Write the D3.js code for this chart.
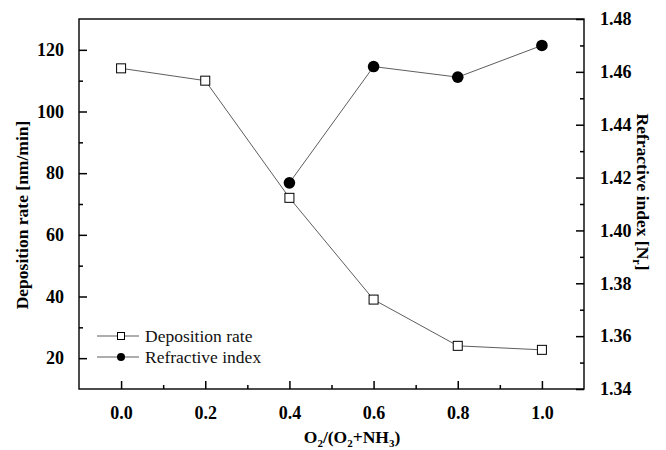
<!DOCTYPE html>
<html><head><meta charset="utf-8">
<script src="https://cdn.jsdelivr.net/npm/d3@7"></script>
<style>body{margin:0;background:#fff}svg{display:block}</style>
</head><body>
<svg id="c" width="666" height="450"></svg>
<script>
const ratio = [0.0, 0.2, 0.4, 0.6, 0.8, 1.0];
const depositionRate = [114, 110, 72, 39, 24, 22.7];
const riRatio = [0.4, 0.6, 0.8, 1.0];
const refractiveIndex = [1.418, 1.462, 1.458, 1.470];
const xTicks = [0.0, 0.2, 0.4, 0.6, 0.8, 1.0];
const yLeftTicks = [20, 40, 60, 80, 100, 120];
const yRightTicks = [1.34, 1.36, 1.38, 1.40, 1.42, 1.44, 1.46, 1.48];

const svg = d3.select("#c");
const L = 79, R = 584, T = 19, B = 389;
const font = "'Liberation Serif','Times New Roman',serif";
const x = d3.scaleLinear().domain([-0.1, 1.1]).range([L, R]);
const yL = d3.scaleLinear().domain([10, 130]).range([B, T]);
const yR = d3.scaleLinear().domain([1.34, 1.48]).range([B, T]);

// frame
svg.append("rect").attr("x", L).attr("y", T).attr("width", R - L).attr("height", B - T)
  .attr("fill", "none").attr("stroke", "#000").attr("stroke-width", 1.4);

function styleAxis(g) {
  g.select(".domain").remove();
  g.selectAll("line").attr("stroke", "#000").attr("stroke-width", 1.5);
  g.selectAll("text").attr("font-family", font).attr("font-weight", "bold").attr("font-size", 18).attr("fill", "#000");
}
// bottom axis
const xMinor = [0.1, 0.3, 0.5, 0.7, 0.9];
svg.append("g").attr("transform", `translate(0,${B})`)
  .call(d3.axisBottom(x).tickValues(xMinor).tickSize(-4).tickFormat(""))
  .call(styleAxis);
svg.append("g").attr("transform", `translate(0,${B})`)
  .call(d3.axisBottom(x).tickValues(xTicks).tickSize(-8).tickPadding(17).tickFormat(d3.format(".1f")))
  .call(styleAxis);
// left axis
const lMinor = [30, 50, 70, 90, 110];
svg.append("g").attr("transform", `translate(${L},0)`)
  .call(d3.axisLeft(yL).tickValues(lMinor).tickSize(-4).tickFormat(""))
  .call(styleAxis);
svg.append("g").attr("transform", `translate(${L},0)`)
  .call(d3.axisLeft(yL).tickValues(yLeftTicks).tickSize(-8).tickPadding(15).tickFormat(d3.format("d")))
  .call(styleAxis);
// right axis
const rMinor = [1.35, 1.37, 1.39, 1.41, 1.43, 1.45, 1.47];
svg.append("g").attr("transform", `translate(${R},0)`)
  .call(d3.axisRight(yR).tickValues(rMinor).tickSize(-4).tickFormat(""))
  .call(styleAxis);
svg.append("g").attr("transform", `translate(${R},0)`)
  .call(d3.axisRight(yR).tickValues(yRightTicks).tickSize(-8).tickPadding(16).tickFormat(d3.format(".2f")))
  .call(styleAxis);

// lines
const dep = ratio.map((r, i) => [r, depositionRate[i]]);
const ri = riRatio.map((r, i) => [r, refractiveIndex[i]]);
svg.append("path").datum(dep).attr("fill", "none").attr("stroke", "#333").attr("stroke-width", 0.8)
  .attr("d", d3.line().x(d => x(d[0])).y(d => yL(d[1])));
svg.append("path").datum(ri).attr("fill", "none").attr("stroke", "#333").attr("stroke-width", 0.8)
  .attr("d", d3.line().x(d => x(d[0])).y(d => yR(d[1])));
svg.selectAll(".sq").data(dep).join("rect")
  .attr("x", d => x(d[0]) - 4.5).attr("y", d => yL(d[1]) - 4.5).attr("width", 9).attr("height", 9)
  .attr("fill", "#fff").attr("stroke", "#000").attr("stroke-width", 1);
svg.selectAll(".ci").data(ri).join("circle")
  .attr("cx", d => x(d[0])).attr("cy", d => yR(d[1])).attr("r", 5.8).attr("fill", "#000");

// legend
const lg = svg.append("g");
[["Deposition rate", "sq", 336], ["Refractive index", "ci", 357]].forEach(([t, m, y]) => {
  lg.append("line").attr("x1", 97).attr("x2", 139).attr("y1", y).attr("y2", y).attr("stroke", "#333").attr("stroke-width", 0.8);
  if (m === "sq") lg.append("rect").attr("x", 117.5).attr("y", y - 3.5).attr("width", 7).attr("height", 7).attr("fill", "#fff").attr("stroke", "#000");
  else lg.append("circle").attr("cx", 121).attr("cy", y).attr("r", 4).attr("fill", "#000");
  lg.append("text").attr("x", 145).attr("y", y + 6).text(t)
    .attr("font-family", font).attr("font-size", 17.5).attr("fill", "#111");
});

// axis titles
svg.append("text").attr("transform", "translate(28,215) rotate(-90)").attr("text-anchor", "middle")
  .attr("font-family", font).attr("font-weight", "bold").attr("font-size", 17.5).attr("fill", "#000")
  .text("Deposition rate [nm/min]");
const rt = svg.append("text").attr("transform", "translate(637,192) rotate(90)").attr("text-anchor", "middle")
  .attr("font-family", font).attr("font-weight", "bold").attr("font-size", 17.5).attr("fill", "#000");
rt.append("tspan").text("Refractive index [N");
rt.append("tspan").attr("font-size", 12).attr("dy", 4).text("r");
rt.append("tspan").attr("dy", -4).text("]");
const xt = svg.append("text").attr("x", 352).attr("y", 443).attr("text-anchor", "middle")
  .attr("font-family", font).attr("font-weight", "bold").attr("font-size", 17.5).attr("fill", "#000");
xt.append("tspan").text("O");
xt.append("tspan").attr("font-size", 11).attr("dy", 4).text("2");
xt.append("tspan").attr("dy", -4).text("/(O");
xt.append("tspan").attr("font-size", 11).attr("dy", 4).text("2");
xt.append("tspan").attr("dy", -4).text("+NH");
xt.append("tspan").attr("font-size", 11).attr("dy", 4).text("3");
xt.append("tspan").attr("dy", -4).text(")");
</script>
</body></html>
